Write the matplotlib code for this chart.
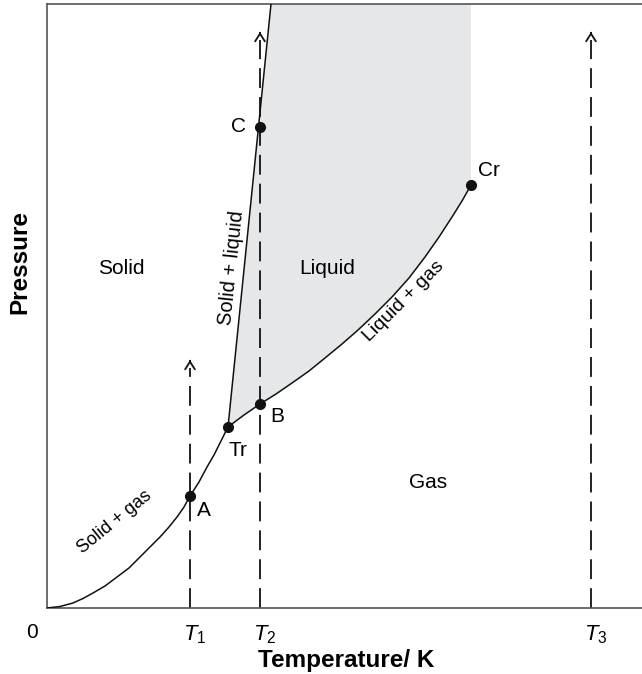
import matplotlib

matplotlib.use("Agg")
import matplotlib.pyplot as plt

plt.rcParams["font.family"] = ["Liberation Sans", "DejaVu Sans"]
plt.rcParams["mathtext.fontset"] = "custom"
plt.rcParams["mathtext.rm"] = "Liberation Sans"
plt.rcParams["mathtext.it"] = "Liberation Sans:italic"

# phase boundaries (arbitrary temperature / pressure units)
sub_T = [0, 13, 26, 36, 46, 58, 70, 82, 93, 103, 113, 122, 130, 137, 143, 152, 160, 167, 173, 177, 181]
sub_P = [0, 1.5, 5, 9.5, 15, 22, 31, 40, 51, 61, 71, 81, 91, 101, 112, 126, 141, 153, 165, 173, 181]
vap_T = [181, 197, 213, 229, 245, 262, 278, 295, 311, 328, 345, 362, 378, 392, 405, 415, 424]
vap_P = [181, 193, 204, 214, 225, 237, 250, 264, 278, 294, 311, 330, 351, 371, 391, 407, 423]
fus_T = [181, 224]
fus_P = [181, 604]

# labelled points
pt_names = ["A", "Tr", "B", "C", "Cr"]
pt_T = [143, 181, 213, 213, 424]
pt_P = [112, 181, 204, 481, 423]

# isotherms
iso_T = [143, 213, 544]
iso_top = [248, 576, 576]
iso_labels = ["$T_1$", "$T_2$", "$T_3$"]

T_MAX = 595
P_MAX = 604

fig = plt.figure(figsize=(6.42, 6.74), dpi=100)
ax = fig.add_axes([47 / 642, 66 / 674, 1 - 47 / 642, 604 / 674])
ax.set_xlim(0, T_MAX)
ax.set_ylim(0, P_MAX)

# liquid region shading
poly_T = fus_T + [vap_T[-1]] + vap_T[::-1]
poly_P = fus_P + [P_MAX] + vap_P[::-1]
ax.fill(poly_T, poly_P, color="#e6e7e8", lw=0, zorder=0)

ax.plot(sub_T, sub_P, color="#111111", lw=1.1, zorder=3)
ax.plot(vap_T, vap_P, color="#111111", lw=1.1, zorder=3)
ax.plot(fus_T, fus_P, color="#111111", lw=1.1, zorder=3)

for x, top in zip(iso_T, iso_top):
    ax.plot([x, x], [0, top - 8], color="#111111", lw=1.3, linestyle=(0, (11, 5)), zorder=2)
    ax.annotate("", xy=(x, top), xytext=(x, top - 1),
                arrowprops=dict(arrowstyle="->,head_length=0.55,head_width=0.35",
                                lw=1.3, color="#111111", shrinkA=0, shrinkB=0))

ax.plot(pt_T, pt_P, "o", color="#111111", ms=7, zorder=4)

offsets = {"A": (14, -15), "Tr": (10, -24), "B": (17, -13), "C": (-22, 0), "Cr": (18, 14)}
for name, x, y in zip(pt_names, pt_T, pt_P):
    dx, dy = offsets[name]
    ax.text(x + dx, y + dy, name, ha="center", va="center", fontsize=15)

ax.text(74, 340, "Solid", ha="center", va="center", fontsize=15)
ax.text(280, 340, "Liquid", ha="center", va="center", fontsize=15)
ax.text(381, 125, "Gas", ha="center", va="center", fontsize=15)
ax.text(185, 340, "Solid + liquid", ha="center", va="center", fontsize=14.5, rotation=84)
ax.text(357, 307, "Liquid + gas", ha="center", va="center", fontsize=14, rotation=45)
ax.text(68, 86, "Solid + gas", ha="center", va="center", fontsize=13, rotation=39)

ax.set_xticks([])
ax.set_yticks([])
ax.text(-15, -25, "0", ha="center", va="center", fontsize=15)
for x, lab in zip(iso_T, iso_labels):
    ax.text(x + 5, -27, lab, ha="center", va="center", fontsize=16)

ax.spines["right"].set_visible(False)
for side in ["left", "top", "bottom"]:
    ax.spines[side].set_color("#555555")
    ax.spines[side].set_linewidth(1.2)

fig.text(346 / 642, 14 / 674, "Temperature/ K", ha="center", va="center",
         fontsize=17.5, fontweight="bold")
fig.text(20 / 642, 1 - 262 / 674, "Pressure", ha="center", va="center",
         fontsize=17.5, fontweight="bold", rotation=90)

fig.savefig("out.png", dpi=100)
